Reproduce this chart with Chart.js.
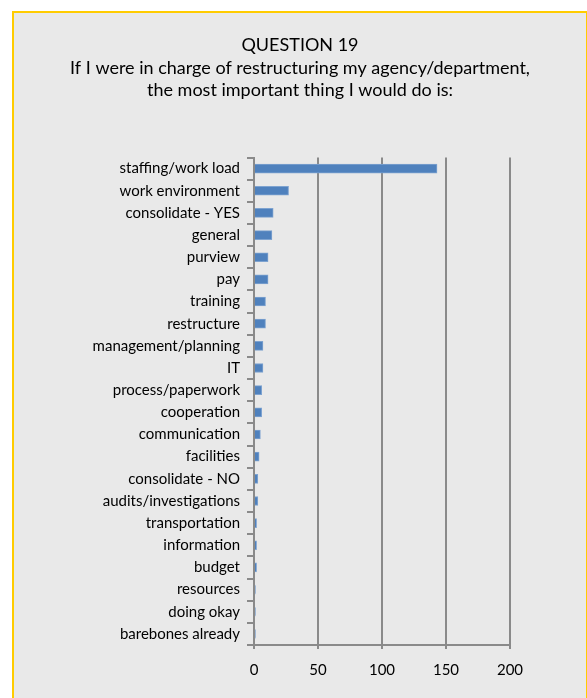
<!DOCTYPE html>
<html>
<head>
<meta charset="utf-8">
<script src="https://cdn.jsdelivr.net/npm/chart.js@4.4.0/dist/chart.umd.min.js"></script>
<style>
  html, body { margin:0; padding:0; background:#fff; }
  #box { position:absolute; left:12px; top:11px; width:572px; height:700px; background:#e9e9e9;
         border:2px solid #ffcc00; border-bottom:none; }
  #wrap { position:absolute; left:0; top:0; width:572px; height:685px; }
</style>
</head>
<body>
<div id="box"><div id="wrap"><canvas id="c"></canvas></div></div>
<script>
// data
const titleLines = ['QUESTION 19', 'If I were in charge of restructuring my agency/department,', 'the most important thing I would do is:'];
const categories = ['staffing/work load','work environment','consolidate - YES','general','purview','pay','training','restructure',
  'management/planning','IT','process/paperwork','cooperation','communication','facilities','consolidate - NO',
  'audits/investigations','transportation','information','budget','resources','doing okay','barebones already'];
const counts = [143, 27, 15, 14, 11, 11, 9, 9, 7, 7, 6, 6, 5, 4, 3, 3, 2, 2, 2, 1, 1, 1];
const xTicks = [0, 50, 100, 150, 200];

const FONT = 'Lato, "Liberation Sans", sans-serif';
const gridGray = '#8a8a8a';

const ctx = document.getElementById('c').getContext('2d');
new Chart(ctx, {
  type: 'bar',
  data: { labels: categories, datasets: [{ data: counts, backgroundColor: '#4f81bd', borderColor: '#7ea3d0', borderWidth: 1, barThickness: 9 }] },
  options: {
    indexAxis: 'y', animation: false, responsive: true, maintainAspectRatio: false,
    layout: { padding: 0 },
    plugins: {
      legend: { display: false }, tooltip: { enabled: false },
      title: { display: true, text: titleLines, color: '#000', font: { family: FONT, size: 18, weight: 'normal', lineHeight: 1.25 },
               padding: { top: 21, bottom: 56 } }
    },
    scales: {
      x: {
        min: 0, max: 200,
        afterBuildTicks: s => { s.ticks = xTicks.map(v => ({ value: v })); },
        afterFit: s => { s.height = 53; },
        grid: { color: gridGray, lineWidth: 2, tickLength: 4, drawTicks: true },
        border: { color: gridGray, width: 2 },
        ticks: { color: '#000', font: { family: FONT, size: 15 }, padding: 12 }
      },
      y: {
        afterFit: s => { s.width = 240; },
        grid: { offset: true, drawOnChartArea: false, color: gridGray, lineWidth: 2, tickLength: 7 },
        border: { color: gridGray, width: 2 },
        ticks: { color: '#000', font: { family: FONT, size: 15 }, padding: 7, autoSkip: false }
      },
      // empty spacer on the right so the plot ends at 200 where the reference does
      spacer: {
        type: 'linear', position: 'right', axis: 'y',
        afterFit: s => { s.width = 76; },
        grid: { display: false }, border: { display: false }, ticks: { display: false }
      }
    }
  }
});
</script>
</body>
</html>
